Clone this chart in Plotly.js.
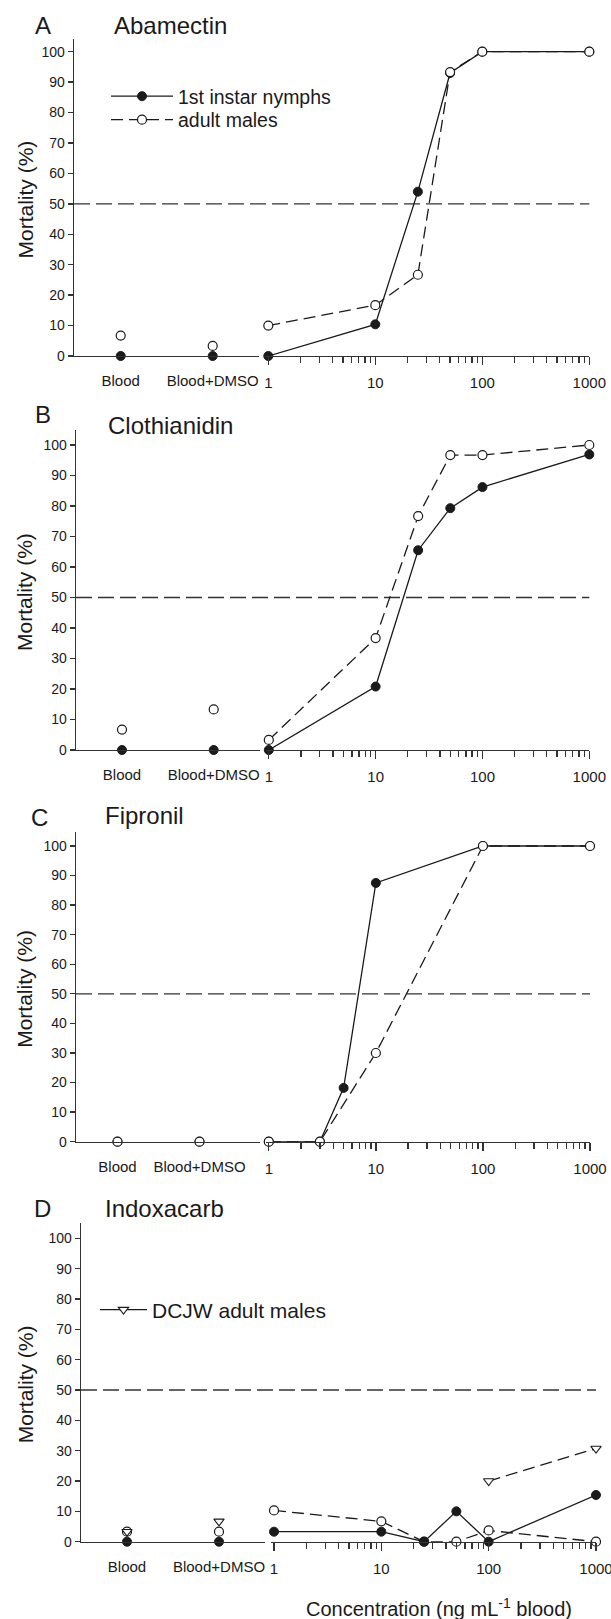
<!DOCTYPE html>
<html><head><meta charset="utf-8">
<script src="https://cdn.plot.ly/plotly-3.0.1.min.js"></script>
<style>html,body{margin:0;padding:0;background:#fff}</style>
</head><body><div id="chart" style="width:611px;height:1619px"></div>
<script>
// ---------- DATA ----------
const categories = ['Blood', 'Blood+DMSO'];
const logTickVals = [1, 10, 100, 1000];
const logTickText = ['1', '10', '100', '1000'];

const panelLetters = ['A', 'B', 'C', 'D'];
const panelNames = ['Abamectin', 'Clothianidin', 'Fipronil', 'Indoxacarb'];
const legendNames = ['1st instar nymphs', 'adult males', 'DCJW adult males'];

const abamectinConc = [1, 10, 25, 50, 100, 1000];
const abamectinNymphCtrl = [0, 0];
const abamectinNymph = [0, 10.4, 54, 93, 100, 100];
const abamectinAdultCtrl = [6.7, 3.3];
const abamectinAdult = [10, 16.7, 26.7, 93.3, 100, 100];

const clothianidinConc = [1, 10, 25, 50, 100, 1000];
const clothianidinNymphCtrl = [0, 0];
const clothianidinNymph = [0, 20.8, 65.5, 79.3, 86.2, 96.9];
const clothianidinAdultCtrl = [6.7, 13.3];
const clothianidinAdult = [3.3, 36.7, 76.7, 96.7, 96.7, 100];

const fipronilNymphConc = [1, 3, 5, 10, 100, 1000];
const fipronilNymphCtrl = [0, 0];
const fipronilNymph = [0, 0, 18.2, 87.5, 100, 100];
const fipronilAdultConc = [1, 3, 10, 100, 1000];
const fipronilAdultCtrl = [0, 0];
const fipronilAdult = [0, 0, 30, 100, 100];

const indoxacarbConc = [1, 10, 25, 50, 100, 1000];
const indoxacarbNymphCtrl = [0, 0];
const indoxacarbNymph = [3.3, 3.3, 0, 10, 0, 15.4];
const indoxacarbAdultCtrl = [3.3, 3.3];
const indoxacarbAdult = [10.3, 6.7, 0, 0, 3.7, 0];
const dcjwConc = [100, 1000];
const dcjwCtrl = [3.3, 6.7];
const dcjwAdult = [20, 30.7];

// minor log ticks (2..9 within each decade)
const minorLogTicks = [];
[1, 10, 100].forEach(d => { for (let m = 2; m <= 9; m++) minorLogTicks.push(d * m); });

// ---------- LAYOUT GEOMETRY (pixels) ----------
const W = 611, H = 1619;
const px = v => v / W;
const py = v => 1 - v / H;
const FONT = 'Liberation Sans, Arial, sans-serif';
const INK = '#1a1a1a';
const AX = '#333';

const geo = [
  {axisX:74, blood:120.7, bd:212.7, catEnd:259, x1:268.3, x1000:589.3, y0:356, y100:51.7, top:39,
   letter:[33,25], name:[112,25]},
  {axisX:76, blood:122, bd:213.7, catEnd:260, x1:268.8, x1000:589.3, y0:750, y100:445, top:430,
   letter:[33,415], name:[106,425]},
  {axisX:76, blood:117.5, bd:199.5, catEnd:260, x1:268.8, x1000:590, y0:1141.7, y100:846, top:832,
   letter:[29,817], name:[103,815]},
  {axisX:81, blood:127, bd:219, catEnd:265, x1:274, x1000:596, y0:1541.7, y100:1238.3, top:1223,
   letter:[32,1208], name:[103,1208]}
];

const nymphStyle = {line:{color:INK, width:1.3, dash:'solid'},
  marker:{symbol:'circle', size:9, color:INK, line:{color:INK, width:1}}};
const adultStyle = {line:{color:INK, width:1.3, dash:'12px,6px'},
  marker:{symbol:'circle', size:9, color:'#fff', line:{color:INK, width:1.2}}};
const dcjwStyle = {line:{color:INK, width:1.3, dash:'12px,6px'},
  marker:{symbol:'triangle-down', size:9, color:'#fff', line:{color:INK, width:1.1}}};

const panelSeries = [
  [
    {ctrl:abamectinNymphCtrl, conc:abamectinConc, vals:abamectinNymph, style:nymphStyle, name:legendNames[0], legend:'legend'},
    {ctrl:abamectinAdultCtrl, conc:abamectinConc, vals:abamectinAdult, style:adultStyle, name:legendNames[1], legend:'legend3'}
  ],
  [
    {ctrl:clothianidinNymphCtrl, conc:clothianidinConc, vals:clothianidinNymph, style:nymphStyle},
    {ctrl:clothianidinAdultCtrl, conc:clothianidinConc, vals:clothianidinAdult, style:adultStyle}
  ],
  [
    {ctrl:fipronilNymphCtrl, conc:fipronilNymphConc, vals:fipronilNymph, style:nymphStyle},
    {ctrl:fipronilAdultCtrl, conc:fipronilAdultConc, vals:fipronilAdult, style:adultStyle}
  ],
  [
    {ctrl:indoxacarbAdultCtrl, conc:indoxacarbConc, vals:indoxacarbAdult, style:adultStyle},
    {ctrl:indoxacarbNymphCtrl, conc:indoxacarbConc, vals:indoxacarbNymph, style:nymphStyle},
    {ctrl:dcjwCtrl, conc:dcjwConc, vals:dcjwAdult, style:dcjwStyle}
  ]
];

const legendBase = {xanchor:'left', yanchor:'top', bgcolor:'rgba(0,0,0,0)', borderwidth:0};
const traces = [];
const layout = {
  width: W, height: H,
  margin: {l:0, r:0, t:0, b:0},
  paper_bgcolor: '#fff', plot_bgcolor: 'rgba(0,0,0,0)',
  font: {family: FONT, color: INK, size: 14},
  showlegend: true,
  shapes: [], annotations: [],
  legend: Object.assign({x: px(106), y: py(77), font:{size:19.5, family:FONT, color:INK}, itemwidth: 62}, legendBase),
  legend3: Object.assign({x: px(106), y: py(100.5), font:{size:19.5, family:FONT, color:INK}, itemwidth: 62}, legendBase),
  legend2: Object.assign({x: px(95), y: py(1289.5), font:{size:21, family:FONT, color:INK}, itemwidth: 47}, legendBase)
};

geo.forEach((g, i) => {
  const xc = 'x' + (2*i + 1), xl = 'x' + (2*i + 2), yy = 'y' + (i + 1);
  const xcKey = 'xaxis' + (2*i + 1 === 1 ? '' : 2*i + 1);
  const xlKey = 'xaxis' + (2*i + 2);
  const yKey = 'yaxis' + (i === 0 ? '' : i + 1);
  const unit = g.bd - g.blood;
  const pxPerVal = (g.y0 - g.y100) / 100;
  const decade = (g.x1000 - g.x1) / 3;

  layout[xcKey] = {
    type:'category', domain:[px(g.axisX), px(g.catEnd)],
    range:[(g.axisX - g.blood)/unit, (g.catEnd - g.blood)/unit],
    anchor: yy, showline:true, linecolor:AX, linewidth:1.3, ticks:'', ticklabelstandoff: 11,
    showgrid:false, zeroline:false, fixedrange:true,
    tickfont:{size:15, family:FONT, color:INK}
  };
  layout[xlKey] = {
    type:'log', domain:[px(g.x1 - 3), px(g.x1000)], range:[-3/decade, 3],
    anchor: yy, showline:true, linecolor:AX, linewidth:1.3,
    tickmode:'array', tickvals:logTickVals, ticktext:logTickText,
    ticks:'outside', ticklen:8, tickcolor:AX, tickwidth:1.3, ticklabelstandoff: 5,
    ticklabeloverflow:'allow',
    minor:{ticks:'outside', ticklen:6, tickcolor:AX, tickwidth:1.3, tickmode:'array',
      tickvals:minorLogTicks, showgrid:false},
    showgrid:false, zeroline:false, fixedrange:true,
    tickfont:{size:15, family:FONT, color:INK}
  };
  layout[yKey] = {
    domain:[py(g.y0), py(g.top)], range:[0, (g.y0 - g.top)/pxPerVal],
    anchor: xc, showline:true, linecolor:AX, linewidth:1.3,
    ticks:'outside', ticklen:5, tickcolor:AX, tickwidth:1.3, tick0:0, dtick:10,
    showgrid:false, zeroline:false, fixedrange:true,
    tickfont:{size:14, family:FONT, color:INK}
  };

  // 50% reference line
  layout.shapes.push({type:'line', xref:'paper', yref:yy, x0:px(g.axisX), x1:px(g.x1000), y0:50, y1:50,
    line:{color:AX, width:1.3, dash:'16px,6px'}, layer:'below'});

  // titles
  layout.annotations.push({xref:'paper', yref:'paper', x:px(g.letter[0]), y:py(g.letter[1]),
    xanchor:'left', yanchor:'middle', text:panelLetters[i], showarrow:false,
    font:{size:24, family:FONT, color:INK}});
  layout.annotations.push({xref:'paper', yref:'paper', x:px(g.name[0]), y:py(g.name[1]),
    xanchor:'left', yanchor:'middle', text:panelNames[i], showarrow:false,
    font:{size:24, family:FONT, color:INK}});
  layout.annotations.push({xref:'paper', yref:'paper', x:px(25), y:py((g.y0 + g.top)/2 + 2),
    xanchor:'center', yanchor:'middle', textangle:-90, text:'Mortality (%)', showarrow:false,
    font:{size:21, family:FONT, color:INK}});

  panelSeries[i].forEach(s => {
    traces.push({type:'scatter', mode:'markers', x:categories, y:s.ctrl, xaxis:xc, yaxis:yy,
      marker:s.style.marker, showlegend:false, cliponaxis:false, hoverinfo:'skip'});
    const t = {type:'scatter', mode:'lines+markers', x:s.conc, y:s.vals, xaxis:xl, yaxis:yy,
      line:s.style.line, marker:s.style.marker, cliponaxis:false, hoverinfo:'skip',
      showlegend:!!s.name};
    if (s.name) { t.name = s.name; t.legend = s.legend; }
    traces.push(t);
  });
});

// legend sample for DCJW (solid line in the original key)
traces.push({type:'scatter', mode:'lines+markers', x:[null], y:[null], xaxis:'x8', yaxis:'y4',
  line:{color:INK, width:1.3, dash:'solid'}, marker:dcjwStyle.marker,
  name:legendNames[2], showlegend:true, legend:'legend2', hoverinfo:'skip'});

layout.annotations.push({xref:'paper', yref:'paper', x:px(439), y:py(1607),
  xanchor:'center', yanchor:'middle', text:'Concentration (ng mL<sup>-1</sup> blood)', showarrow:false,
  font:{size:20, family:FONT, color:INK}});

Plotly.newPlot('chart', traces, layout, {staticPlot:true, displayModeBar:false});
</script>
</body></html>
